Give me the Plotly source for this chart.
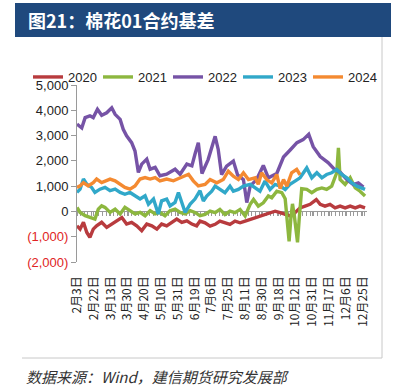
import plotly.graph_objects as go

# ---------------- data ----------------
tick_pos = [0, 6, 12, 18, 24, 30, 36, 42, 48, 54, 60, 66, 72, 78, 84, 90, 96, 102]
tick_labels = ["2月3日", "2月22日", "3月13日", "3月30日", "4月20日", "5月10日", "5月31日",
               "6月19日", "7月6日", "7月25日", "8月11日", "8月30日", "9月18日", "10月12日",
               "10月31日", "11月17日", "12月6日", "12月25日"]

y_ticks = [-2000, -1000, 0, 1000, 2000, 3000, 4000, 5000]
y_labels = ['<span style="color:#E02424">(2,000)</span>', '<span style="color:#E02424">(1,000)</span>',
            "0", "1,000", "2,000", "3,000", "4,000", "5,000"]

x_2020 = [0, 1.1, 2.3, 3.5, 4.6, 5.8, 7.0, 8.8, 10.6, 12.4, 14.2, 16.0, 17.7, 19.5, 21.3, 23.1, 24.9,
          26.7, 28.5, 30.2, 32.0, 33.8, 35.6, 37.4, 39.2, 41.0, 42.7, 43.9, 45.7, 47.5, 49.3, 51.0,
          52.8, 54.6, 56.4, 58.2, 60.0, 61.8, 63.6, 65.3, 67.1, 68.9, 70.7, 72.5, 74.3, 76.0, 77.8,
          79.6, 81.4, 83.2, 85.4, 86.8, 88.5, 90.3, 92.1, 93.9, 95.7, 97.5, 99.3, 101.0, 102.8]
v_2020 = [-570, -700, -430, -830, -1030, -700, -570, -430, -630, -500, -370, -240, -500, -430, -570,
          -760, -500, -570, -700, -500, -570, -430, -300, -430, -370, -500, -570, -380, -450, -580,
          -510, -380, -450, -510, -380, -450, -380, -320, -250, -180, -120, -50, 10, -50, -120, -180,
          -50, 140, 210, 280, 470, 280, 210, 280, 140, 210, 140, 210, 140, 210, 140]

x_2021 = [0, 1.1, 2.9, 4.6, 6.4, 7.6, 8.8, 10.0, 11.8, 13.6, 15.4, 17.1, 18.9, 20.7, 22.5, 24.3, 26.1,
          27.9, 29.6, 31.4, 33.2, 35.0, 36.8, 38.6, 40.4, 42.1, 43.9, 45.7, 47.5, 49.3, 51.0, 52.8,
          54.6, 56.4, 58.2, 60.0, 61.8, 63.0, 64.7, 66.5, 68.3, 69.5, 71.3, 73.1, 74.3, 75.0, 75.7,
          76.3, 76.9, 77.6, 78.7, 79.3, 80.2, 82.0, 83.8, 85.6, 87.4, 89.1, 90.9, 92.7, 93.3, 93.9,
          95.7, 97.5, 99.3, 101.0, 102.8]
v_2021 = [160, -40, -170, -240, -300, 90, 220, 160, -40, 90, -100, 160, 30, -100, -40, -170, 30,
          -100, -40, -170, 30, 90, -40, -100, 30, -40, -170, -120, 10, -50, 80, -120, 10, -50, 80,
          -180, 280, 470, 210, 340, 610, 540, 800, 740, 500, -400, -1180, -300, 300, -200, -1220,
          -300, 900, 870, 740, 870, 930, 870, 1000, 1530, 2510, 1260, 1070, 1330, 930, 800, 610]

x_2022 = [0, 1.7, 2.9, 4.6, 5.8, 7.3, 8.8, 10.6, 12.4, 13.6, 15.4, 16.5, 17.7, 19.5, 20.7, 21.9, 23.1,
          24.9, 26.1, 27.9, 29.6, 32.0, 35.0, 36.8, 39.2, 41.0, 42.1, 43.3, 44.6, 46.8, 49.3, 50.4,
          51.6, 53.4, 55.8, 57.3, 59.4, 60.6, 61.8, 64.1, 66.5, 68.3, 71.3, 73.7, 76.0, 78.5, 80.7,
          82.7, 84.3, 86.8, 89.6, 92.0, 94.0, 96.3, 98.6, 100.4, 102.2]
v_2022 = [3450, 3300, 3710, 3780, 3710, 4040, 3800, 3900, 4100, 3840, 3640, 3250, 2990, 2720, 2390,
          1540, 1870, 2070, 1670, 1740, 1410, 1470, 1670, 1470, 1870, 1800, 2260, 2720, 1500, 2050,
          2970, 2450, 1460, 1790, 1990, 1450, 1260, 350, 1000, 1260, 1820, 1330, 1500, 2150, 2420,
          2720, 2840, 3050, 2560, 2170, 1930, 1650, 1540, 1260, 1060, 1130, 960]

x_2023 = [0, 1.1, 2.3, 3.5, 5.2, 6.4, 8.2, 10.0, 11.8, 13.6, 15.4, 17.1, 18.9, 20.7, 22.5, 24.3, 25.5,
          27.3, 29.0, 30.2, 32.0, 33.2, 35.0, 36.2, 37.4, 38.6, 40.4, 42.1, 43.9, 45.1, 46.3, 48.1,
          49.3, 51.0, 52.8, 54.6, 55.8, 57.6, 59.4, 61.8, 63.6, 65.3, 67.1, 68.9, 70.7, 72.5, 74.3,
          76.0, 77.8, 79.6, 82.0, 83.8, 85.6, 87.4, 89.1, 90.9, 92.7, 94.5, 96.3, 98.1, 99.9, 101.6,
          102.8]
v_2023 = [750, 880, 1280, 1080, 950, 750, 880, 950, 820, 880, 750, 680, 750, 620, 490, 620, 290, 490,
          -100, 420, 490, 220, 360, 750, 360, -40, 290, 490, 820, 410, 610, 800, 1000, 870, 740, 1000,
          800, 870, 1000, 1070, 930, 800, 1200, 870, 1070, 1000, 870, 1070, 1200, 1330, 1720, 1330,
          1530, 1330, 1460, 1530, 1660, 1460, 1330, 1130, 1000, 930, 870]

x_2024 = [0, 1.1, 2.3, 4.0, 5.8, 7.0, 8.8, 10.6, 11.8, 13.6, 15.4, 17.1, 18.9, 20.7, 22.5, 24.3, 26.1,
          27.9, 29.6, 32.0, 34.4, 36.8, 38.6, 39.8, 41.5, 43.3, 45.7, 47.5, 49.9, 52.2, 54.0, 55.8,
          57.6, 59.4, 61.2, 63.6, 64.7, 65.9, 67.7, 69.5, 71.3, 72.5, 73.7, 74.9, 76.6, 78.4, 79.6]
v_2024 = [950, 1010, 1140, 1010, 1140, 1280, 1140, 1210, 1280, 1210, 1080, 950, 880, 1010, 1280, 1340,
          1280, 1340, 1210, 1280, 1210, 1340, 1410, 1470, 1210, 1010, 1070, 1260, 1130, 1260, 1590,
          1390, 1260, 1530, 1260, 1330, 1070, 1530, 1260, 1130, 1460, 900, 1260, 1000, 1530, 1660, 1450]

series = [
    ("2020", x_2020, v_2020, "#B83B3E"),
    ("2021", x_2021, v_2021, "#8DB73F"),
    ("2022", x_2022, v_2022, "#7653A6"),
    ("2023", x_2023, v_2023, "#31A8C9"),
    ("2024", x_2024, v_2024, "#F48A31"),
]

# ---------------- figure ----------------
W, H = 403, 392
ML, MR, MT, MB = 77, 36, 85, 130
PW, PH = W - ML - MR, H - MT - MB


def px(x):
    return (x - ML) / PW


def py(y):
    return 1 - (y - MT) / PH


fig = go.Figure()
for name, xs, vs, col in series:
    fig.add_trace(go.Scatter(x=xs, y=vs, name=name, mode="lines",
                             line=dict(color=col, width=3.4), hoverinfo="skip"))

latin = "Liberation Sans, Arial, sans-serif"
cjk = "Noto Sans CJK SC, sans-serif"

fig.update_layout(
    width=W, height=H,
    margin=dict(l=ML, r=MR, t=MT, b=MB, autoexpand=False),
    paper_bgcolor="white", plot_bgcolor="white",
    showlegend=True,
    legend=dict(orientation="h", xref="paper", yref="paper",
                x=px(28), y=py(62), xanchor="left", yanchor="top",
                entrywidth=25, entrywidthmode="pixels",
                font=dict(family=latin, size=13, color="#222"),
                bgcolor="rgba(0,0,0,0)", traceorder="normal", itemwidth=30),
    xaxis=dict(range=[0, 103.5], anchor="free", position=2000 / 7000,
               showline=True, linecolor="#9a9a9a", linewidth=1,
               ticks="outside", ticklen=4, tickcolor="#9a9a9a",
               tickmode="array", tickvals=tick_pos, ticktext=tick_labels,
               tickangle=-90, ticklabelstandoff=55,
               tickfont=dict(family=cjk, size=12, color="#222"),
               minor=dict(ticks="outside", ticklen=4, tickcolor="#9a9a9a",
                          tickmode="linear", tick0=0, dtick=1.3),
               showgrid=False, zeroline=False, layer="below traces", automargin=False),
    yaxis=dict(range=[-2000, 5000], showline=True, linecolor="#9a9a9a", linewidth=1,
               ticks="outside", ticklen=5, tickcolor="#9a9a9a",
               tickmode="array", tickvals=y_ticks, ticktext=y_labels,
               tickfont=dict(family=latin, size=13, color="#222"),
               showgrid=False, zeroline=False, automargin=False),
)

# title bar
fig.add_shape(type="rect", xref="paper", yref="paper",
              x0=px(15), x1=px(391), y0=py(37), y1=py(3),
              fillcolor="#1F497D", line=dict(width=0), layer="below")
fig.add_annotation(xref="paper", yref="paper", x=px(26), y=py(20), xanchor="left", yanchor="middle",
                   text="<b>图21：棉花01合约基差</b>", showarrow=False,
                   font=dict(family=cjk, size=18, color="white"))
# frame lines
fig.add_shape(type="line", xref="paper", yref="paper", x0=px(382), x1=px(382), y0=py(37), y1=py(358),
              line=dict(color="#c8c8c8", width=1))
fig.add_shape(type="line", xref="paper", yref="paper", x0=px(22), x1=px(382), y0=py(358), y1=py(358),
              line=dict(color="#c8c8c8", width=1))
# source note
fig.add_annotation(xref="paper", yref="paper", x=px(24), y=py(376), xanchor="left", yanchor="middle",
                   text="<i>数据来源：Wind，建信期货研究发展部</i>", showarrow=False,
                   font=dict(family=cjk, size=15, color="#333"))

fig.write_html("out.html", config={"displayModeBar": False},
               post_script="document.body.style.margin='0';")
